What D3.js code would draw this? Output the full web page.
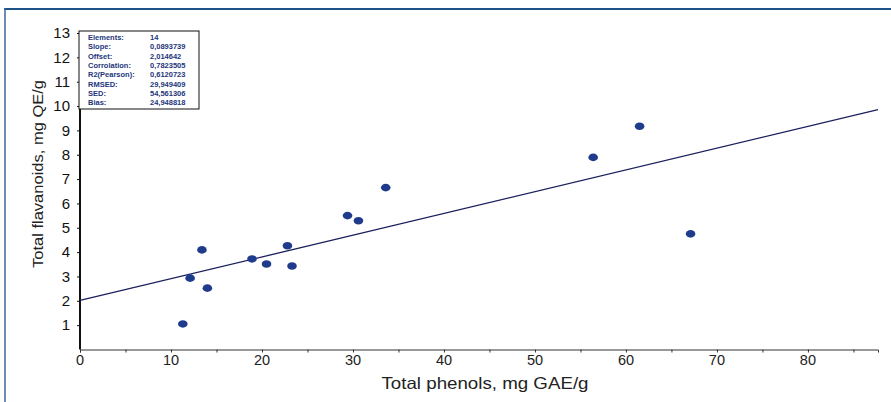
<!DOCTYPE html>
<html>
<head>
<meta charset="utf-8">
<script src="https://cdn.jsdelivr.net/npm/d3@7"></script>
<style>
  body { margin: 0; background: #fff; }
  svg { display: block; font-family: Arial, "Liberation Sans", sans-serif; }
</style>
</head>
<body>
<div id="chart"></div>
<script>
// Total phenols (x) vs total flavanoids (y)
const phenols    = [11.3, 12.1, 13.4, 14.0, 18.9, 20.5, 22.8, 23.3, 29.4, 30.6, 33.6, 56.4, 61.5, 67.1];
const flavanoids = [1.05, 2.93, 4.09, 2.52, 3.72, 3.51, 4.26, 3.43, 5.50, 5.29, 6.65, 7.89, 9.17, 4.75];

const statLabels = ['Elements:', 'Slope:', 'Offset:', 'Corrolation:', 'R2(Pearson):', 'RMSED:', 'SED:', 'Bias:'];
const statValues = ['14', '0,0893739', '2,014642', '0,7823505', '0,6120723', '29,949409', '54,561306', '24,948818'];

const slope = 0.0893739,
      offset = 2.014642;

const xTicks = [0, 10, 20, 30, 40, 50, 60, 70, 80];
const yTicks = [1, 2, 3, 4, 5, 6, 7, 8, 9, 10, 11, 12, 13];

const width = 891,
      height = 402;

const x = d3.scaleLinear().domain([0, 87.7]).range([80, 878]);
const y = d3.scaleLinear().domain([0, 13]).range([349.5, 33]);

const svg = d3.select('#chart')
    .append('svg')
    .attr('width', width)
    .attr('height', height);

// blue frame (top and left edges)
svg.append('line')
    .attr('x1', 4).attr('x2', width).attr('y1', 9).attr('y2', 9)
    .attr('stroke', '#1d5288').attr('stroke-width', 2);
svg.append('line')
    .attr('x1', 5).attr('x2', 5).attr('y1', 8).attr('y2', height)
    .attr('stroke', '#3a6898').attr('stroke-width', 1.5);

// x axis
const xAxis = svg.append('g')
    .attr('transform', `translate(0,${y(0)})`)
    .call(d3.axisBottom(x).tickValues(d3.range(0, 86, 5)).tickSize(3).tickFormat(''));
xAxis.select('.domain').attr('stroke', '#333');
xAxis.selectAll('.tick line').attr('stroke', '#333');

svg.append('g')
    .selectAll('text')
    .data(xTicks)
    .join('text')
    .attr('x', d => x(d))
    .attr('y', y(0) + 15)
    .attr('text-anchor', 'middle')
    .attr('font-size', 14.5)
    .attr('fill', '#222')
    .text(d => d);

// y axis
const yAxis = svg.append('g')
    .attr('transform', `translate(${x(0)},0)`)
    .call(d3.axisLeft(y).tickValues(yTicks).tickSize(3).tickFormat(''));
yAxis.select('.domain').attr('stroke', '#111').attr('stroke-width', 2).attr('d', `M0,${y(13) - 2}V${y(0)}`);
yAxis.selectAll('.tick line').attr('stroke', '#111');

svg.append('g')
    .selectAll('text')
    .data(yTicks)
    .join('text')
    .attr('x', x(0) - 10)
    .attr('y', d => y(d))
    .attr('dy', '0.35em')
    .attr('text-anchor', 'end')
    .attr('font-size', 15)
    .attr('fill', '#111')
    .text(d => d);

// axis titles
svg.append('text')
    .attr('x', 485)
    .attr('y', 389)
    .attr('text-anchor', 'middle')
    .attr('font-size', 16.5)
    .attr('textLength', 207)
    .attr('lengthAdjust', 'spacingAndGlyphs')
    .attr('fill', '#222')
    .text('Total phenols, mg GAE/g');

svg.append('text')
    .attr('transform', `translate(43,174) rotate(-90)`)
    .attr('text-anchor', 'middle')
    .attr('font-size', 15)
    .attr('textLength', 188)
    .attr('lengthAdjust', 'spacingAndGlyphs')
    .attr('fill', '#222')
    .text('Total flavanoids, mg QE/g');

// regression line
const xEnd = x.domain()[1];
svg.append('line')
    .attr('x1', x(0)).attr('y1', y(offset))
    .attr('x2', x(xEnd)).attr('y2', y(offset + slope * xEnd))
    .attr('stroke', '#1a1f5c')
    .attr('stroke-width', 1.3);

// points
svg.append('g')
    .selectAll('ellipse')
    .data(phenols.map((p, i) => [p, flavanoids[i]]))
    .join('ellipse')
    .attr('cx', d => x(d[0]))
    .attr('cy', d => y(d[1]))
    .attr('rx', 4.8)
    .attr('ry', 3.8)
    .attr('fill', '#1f3c8c');

// stats box
const box = svg.append('g').attr('transform', 'translate(79,31)');
box.append('rect')
    .attr('width', 120)
    .attr('height', 78)
    .attr('fill', '#fff')
    .attr('stroke', '#111')
    .attr('stroke-width', 1);
box.selectAll('text.lab')
    .data(statLabels)
    .join('text')
    .attr('class', 'lab')
    .attr('x', 9)
    .attr('y', (d, i) => 9 + i * 9.3)
    .attr('font-size', 7.5)
    .attr('font-weight', 'bold')
    .attr('fill', '#23357a')
    .text(d => d);
box.selectAll('text.val')
    .data(statValues)
    .join('text')
    .attr('class', 'val')
    .attr('x', 71)
    .attr('y', (d, i) => 9 + i * 9.3)
    .attr('font-size', 7.5)
    .attr('font-weight', 'bold')
    .attr('fill', '#23357a')
    .text(d => d);
</script>
</body>
</html>
